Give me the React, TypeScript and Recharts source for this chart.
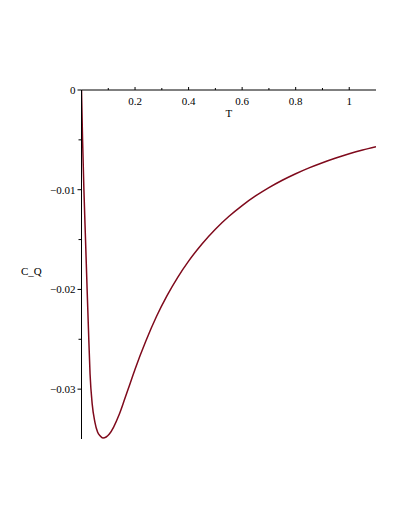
import React from "react";
import { LineChart, Line, XAxis, YAxis, Label } from "recharts";

const tValues = [0, 0.004, 0.009, 0.015, 0.021, 0.026, 0.032, 0.04, 0.05, 0.06, 0.07, 0.08, 0.092, 0.104, 0.12, 0.14, 0.16, 0.18, 0.2, 0.24, 0.28, 0.32, 0.36, 0.4, 0.45, 0.5, 0.55, 0.6, 0.65, 0.7, 0.75, 0.8, 0.85, 0.9, 0.95, 1.0, 1.05, 1.1];
const cqValues = [0, -0.005, -0.01, -0.015, -0.02, -0.024, -0.0285, -0.0315, -0.0333, -0.0343, -0.0347, -0.0349, -0.0348, -0.0345, -0.0338, -0.0326, -0.0311, -0.02955, -0.028, -0.0252, -0.02272, -0.0206, -0.01876, -0.01716, -0.01544, -0.01396, -0.01269, -0.01159, -0.01063, -0.00979, -0.00905, -0.0084, -0.00781, -0.00729, -0.00682, -0.00639, -0.00601, -0.00568];

const xTicks = [0.1, 0.2, 0.3, 0.4, 0.5, 0.6, 0.7, 0.8, 0.9, 1.0];
const xLabels: Record<string, string> = { "0.2": "0.2", "0.4": "0.4", "0.6": "0.6", "0.8": "0.8", "1": "1" };
const yTicks = [0, -0.005, -0.01, -0.015, -0.02, -0.025, -0.03];
const yLabels: Record<string, string> = { "0": "0", "-0.01": "\u22120.01", "-0.02": "\u22120.02", "-0.03": "\u22120.03" };
const xTitle = "T";
const yTitle = "C_Q";

const data = tValues.map((t, i) => ({ T: t, CQ: cqValues[i] }));

const FONT = "'Liberation Serif', 'Times New Roman', serif";
const textStyle = { fontFamily: FONT, fontSize: 11 };

const XTick = (props: any) => {
  const { x, y, payload } = props;
  const key = String(Math.round(payload.value * 10) / 10);
  const label = xLabels[key];
  const major = label !== undefined;
  return (
    <g>
      <line x1={x} y1={y} x2={x} y2={y - (major ? 3 : 2)} stroke="#000" strokeWidth={1} />
      {major && (
        <text x={x} y={y + 15} textAnchor="middle" style={textStyle} fill="#000">
          {label}
        </text>
      )}
    </g>
  );
};

const YTick = (props: any) => {
  const { x, y, payload } = props;
  const key = String(Math.round(payload.value * 1000) / 1000);
  const label = yLabels[key];
  const major = label !== undefined;
  return (
    <g>
      <line x1={x} y1={y} x2={x - (major ? 4 : 3)} y2={y} stroke="#000" strokeWidth={1} />
      {major && (
        <text x={x - 6} y={y + 4} textAnchor="end" style={textStyle} fill="#000">
          {label}
        </text>
      )}
    </g>
  );
};

const XTitle = (props: any) => {
  const vb = props.viewBox;
  return (
    <text x={vb.x + vb.width / 2} y={vb.y + vb.height + 27} textAnchor="middle" style={textStyle} fill="#000">
      {xTitle}
    </text>
  );
};

const YTitle = (props: any) => {
  const vb = props.viewBox;
  return (
    <text x={vb.x + 21} y={vb.y + vb.height / 2 + 10} textAnchor="start" style={textStyle} fill="#000">
      {yTitle}
    </text>
  );
};

export default function App() {
  return (
    <div style={{ position: "absolute", left: 0, top: 0, background: "#fff" }}>
      <LineChart width={405} height={524} data={data} margin={{ top: 60, right: 29, bottom: 85, left: 0 }}>
        <XAxis
          dataKey="T"
          type="number"
          orientation="top"
          domain={[0, 1.1]}
          ticks={xTicks}
          height={30}
          tickSize={0}
          tickMargin={0}
          tickLine={false}
          axisLine={{ stroke: "#000", strokeWidth: 1 }}
          tick={<XTick />}
          interval={0}
          allowDataOverflow
        >
          <Label content={<XTitle />} />
        </XAxis>
        <YAxis
          type="number"
          domain={[-0.035, 0]}
          ticks={yTicks}
          width={81.5}
          tickSize={0}
          tickMargin={0}
          tickLine={false}
          axisLine={{ stroke: "#000", strokeWidth: 1 }}
          tick={<YTick />}
          interval={0}
          allowDataOverflow
        >
          <Label content={<YTitle />} />
        </YAxis>
        <Line
          type="monotone"
          dataKey="CQ"
          stroke="#7f0a1c"
          strokeWidth={1.5}
          dot={false}
          isAnimationActive={false}
        />
      </LineChart>
    </div>
  );
}
